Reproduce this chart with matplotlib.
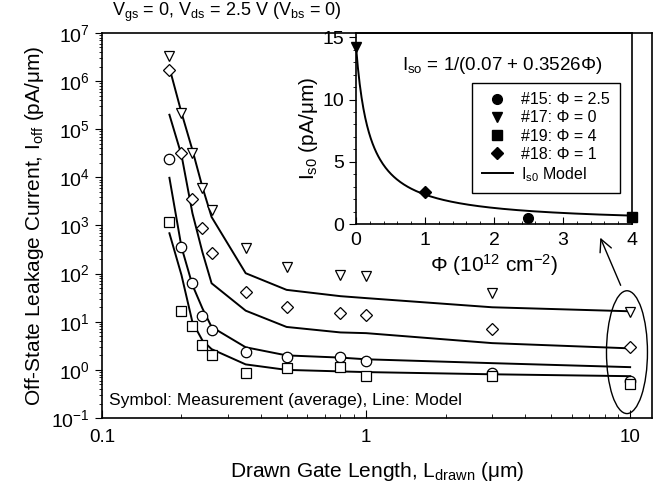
import numpy as np
import matplotlib
matplotlib.use("Agg")
import matplotlib.pyplot as plt
from matplotlib.patches import Ellipse
from matplotlib.ticker import LogLocator, NullFormatter, MultipleLocator

plt.rcParams['font.family'] = ['Liberation Sans', 'DejaVu Sans']
plt.rcParams['mathtext.fontset'] = 'custom'
plt.rcParams['mathtext.rm'] = 'Liberation Sans'
plt.rcParams['mathtext.it'] = 'Liberation Sans:italic'
plt.rcParams['mathtext.bf'] = 'Liberation Sans:bold'

# drawn gate length (um) for measurements and model nodes
L_drawn = [0.18, 0.2, 0.22, 0.24, 0.26, 0.35, 0.5, 0.8, 1.0, 3.0, 10.0]

# measured off-state leakage (pA/um)
tri_meas = [3.3e6, 2.2e5, 3.2e4, 6.0e3, 2.1e3, 340, 136, 93, 89, 39, 15.9]
dia_meas = [1.7e6, 3.2e4, 3.5e3, 890, 270, 41, 20, 15.2, 13.8, 7.0, 3.0]
cir_meas = [2.4e4, 360, 63, 13, 6.7, 2.4, 1.84, 1.84, 1.5, 0.88, 0.6]
sq_meas = [1.2e3, 17, 8.1, 3.3, 2.0, 0.85, 1.08, 1.14, 0.74, 0.75, 0.52]

# model curves (pA/um)
tri_model = [1.9e6, 2.2e5, 3.7e4, 6.3e3, 1.5e3, 102, 46, 34, 31, 20, 16.5]
dia_model = [2.0e5, 2.9e4, 1.8e3, 280, 63, 17, 7.8, 6.0, 5.8, 3.6, 2.8]
cir_model = [9.8e3, 355, 58, 19, 7.8, 2.95, 2.0, 1.8, 1.66, 1.38, 1.14]
sq_model = [690, 93, 9.8, 4.1, 2.7, 1.3, 1.0, 0.93, 0.9, 0.81, 0.74]

# inset: Iso vs implant dose
phi_pts = [2.5, 0.0, 4.0, 1.0]
iso_pts = [0.5, 14.2, 0.55, 2.6]
inset_markers = ['o', 'v', 's', 'D']
inset_labels = ['#15: Φ = 2.5', '#17: Φ = 0', '#19: Φ = 4', '#18: Φ = 1']
iso_a, iso_b = 0.07, 0.3526

fig = plt.figure(figsize=(6.56, 4.93), dpi=100)
ax = fig.add_axes([0.1555, 0.1521, 0.8384, 0.781])

for meas, model, mk in [(tri_meas, tri_model, 'v'), (dia_meas, dia_model, 'D'),
                        (cir_meas, cir_model, 'o'), (sq_meas, sq_model, 's')]:
    ms = 6 if mk == 'D' else 7.5
    ax.plot(L_drawn, model, color='black', lw=1.4)
    ax.plot(L_drawn, meas, ls='none', marker=mk, ms=ms, mfc='white', mec='black', mew=0.9)

ax.set_xscale('log')
ax.set_yscale('log')
ax.set_xlim(0.1, 12.1)
ax.set_ylim(1e-1, 1e7)
ax.set_xticks([0.1, 1, 10])
ax.set_xticklabels(['0.1', '1', '10'])
ax.xaxis.set_minor_locator(LogLocator(base=10, subs=np.arange(2, 10)))
ax.xaxis.set_minor_formatter(NullFormatter())
ax.set_yticks([10.0 ** k for k in range(-1, 8)])
ax.set_yticklabels(['10$^{\\mathrm{%d}}$' % k for k in range(-1, 8)])
ax.yaxis.set_minor_locator(LogLocator(base=10, subs=np.arange(2, 10), numticks=20))
ax.yaxis.set_minor_formatter(NullFormatter())
ax.tick_params(axis='x', which='major', direction='in', length=6, labelsize=13.5, pad=8)
ax.tick_params(axis='x', which='minor', direction='in', length=3)
ax.tick_params(axis='y', which='major', direction='out', length=5, labelsize=14)
ax.tick_params(axis='y', which='minor', direction='out', length=2.5)
for s in ax.spines.values():
    s.set_linewidth(1.2)

ax.set_xlabel('Drawn Gate Length, L$_{\\mathrm{drawn}}$ (μm)', fontsize=15, labelpad=10)
ax.set_ylabel('Off-State Leakage Current, I$_{\\mathrm{off}}$ (pA/μm)', fontsize=15, labelpad=4)
ax.text(0.013, 0.045, 'Symbol: Measurement (average), Line: Model', transform=ax.transAxes,
        fontsize=12.5, ha='left', va='center')
fig.text(0.345, 0.975, 'V$_{\\mathrm{gs}}$ = 0, V$_{\\mathrm{ds}}$ = 2.5 V (V$_{\\mathrm{bs}}$ = 0)',
         fontsize=13, ha='center', va='center')

# ellipse around 10 um points and arrow to inset
ax.add_patch(Ellipse((0.9545, 0.171), 0.0745, 0.319, transform=ax.transAxes,
                     fill=False, ec='black', lw=1.0))
ax.annotate('', xy=(0.904, 0.475), xytext=(0.945, 0.338), xycoords='axes fraction',
            arrowprops=dict(arrowstyle='->', lw=1.0, color='black', mutation_scale=22))

# inset
ins = fig.add_axes([0.5427, 0.5456, 0.4207, 0.3875])
phi_line = np.linspace(0, 4, 300)
ins.plot(phi_line, 1.0 / (iso_a + iso_b * phi_line), color='black', lw=1.4, label='I$_{\\mathrm{s0}}$ Model')
for p, v, mk, lab in zip(phi_pts, iso_pts, inset_markers, inset_labels):
    ins.plot([p], [v], ls='none', marker=mk, ms=6.5 if mk == 'D' else 7, color='black',
             label=lab, clip_on=False)
ins.set_xlim(0, 4)
ins.set_ylim(0, 15.35)
ins.set_xticks([0, 1, 2, 3, 4])
ins.set_yticks([0, 5, 10, 15])
ins.xaxis.set_minor_locator(MultipleLocator(0.2))
ins.yaxis.set_minor_locator(MultipleLocator(1))
ins.tick_params(axis='x', which='major', direction='in', length=5, labelsize=14, pad=6)
ins.tick_params(axis='x', which='minor', direction='in', length=2.5)
ins.tick_params(axis='y', which='major', direction='out', length=5, labelsize=14)
ins.tick_params(axis='y', which='minor', direction='out', length=2.5)
for s in ins.spines.values():
    s.set_linewidth(1.2)
ins.set_xlabel('Φ (10$^{\\mathrm{12}}$ cm$^{\\mathrm{-2}}$)', fontsize=15, labelpad=2)
ins.set_ylabel('I$_{\\mathrm{s0}}$ (pA/μm)', fontsize=15, labelpad=2)
ins.patch.set_alpha(0)
ins.text(0.53, 0.83, 'I$_{\\mathrm{so}}$ = 1/(0.07 + 0.3526Φ)', transform=ins.transAxes,
         fontsize=13.5, ha='center', va='center')

handles, labels = ins.get_legend_handles_labels()
order = [1, 2, 3, 4, 0]
leg = ins.legend([handles[i] for i in order], [labels[i] for i in order],
                 loc='upper left', bbox_to_anchor=(0.42, 0.74), borderaxespad=0, fontsize=11.5,
                 frameon=True, fancybox=False, framealpha=1, edgecolor='black',
                 handlelength=2.0, handletextpad=0.5, labelspacing=0.2, borderpad=0.6)
leg.get_frame().set_linewidth(1.0)

fig.savefig('out.png', dpi=100)
